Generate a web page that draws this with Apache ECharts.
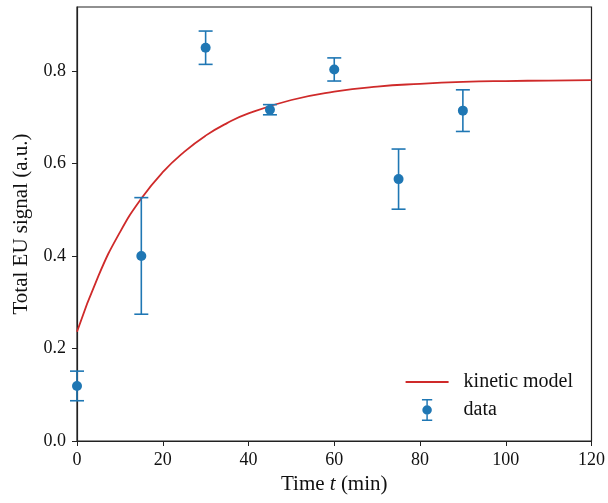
<!DOCTYPE html>
<html>
<head>
<meta charset="utf-8">
<script src="https://cdn.jsdelivr.net/npm/echarts@6/dist/echarts.min.js"></script>
<style>
  html, body { margin: 0; padding: 0; background: #fff; }
  #chart { width: 608px; height: 503px; }
</style>
</head>
<body>
<div id="chart"></div>
<script>
// measured points (time in min, signal, +/- error)
const dataTimes = [0, 15, 30, 45, 60, 75, 90];
const dataValues = [0.119, 0.400, 0.850, 0.716, 0.803, 0.566, 0.714];
const dataErrors = [0.032, 0.126, 0.036, 0.011, 0.025, 0.065, 0.045];

// kinetic model curve
const modelTimes = [0, 5, 10, 15, 20, 25, 30, 35, 40, 50, 60, 70, 80, 90, 100, 110, 120];
const modelValues = [0.236, 0.357, 0.451, 0.524, 0.581, 0.625, 0.660, 0.687, 0.708, 0.737, 0.755, 0.766, 0.772, 0.776, 0.778, 0.779, 0.780];

const xTicks = [0, 20, 40, 60, 80, 100, 120];
const yTicks = [0, 0.2, 0.4, 0.6, 0.8];

const blue = '#1f77b4';
const red = '#cf2a2a';
const font = 'Liberation Serif';

// legend glyphs
const linePath = 'path://M0,0H43V1.8H0Z';
const errPath = 'path://M3,0H17V2H3Z M9,0H11V30H9Z M3,28H17V30H3Z M16.5,15A6.5,6.5 0 1 1 3.5,15A6.5,6.5 0 1 1 16.5,15Z';

const chart = echarts.init(document.getElementById('chart'), null, { renderer: 'canvas' });

chart.setOption({
    animation: false,
    backgroundColor: '#fff',
    grid: {
        left: 77, right: 15, top: 7, bottom: 62,
        show: true, borderColor: '#222', borderWidth: 1.2
    },
    legend: {
        orient: 'vertical',
        right: 30, bottom: 77,
        itemWidth: 43, itemHeight: 22, itemGap: 7,
        textStyle: { fontFamily: font, fontSize: 20, color: '#111', padding: [0, 0, 0, 10] },
        data: [
            { name: 'kinetic model', icon: linePath },
            { name: 'data', icon: errPath }
        ]
    },
    xAxis: {
        type: 'value', min: 0, max: 120, interval: 20,
        name: '{n|Time }{i|t}{n| (min)}',
        nameLocation: 'middle', nameGap: 33,
        nameTextStyle: {
            rich: {
                n: { fontFamily: font, fontSize: 21, color: '#111' },
                i: { fontFamily: font, fontSize: 21, color: '#111', fontStyle: 'italic' }
            }
        },
        axisLine: { lineStyle: { color: '#222', width: 1.2 } },
        axisTick: { length: 5, lineStyle: { color: '#222' }, customValues: xTicks },
        axisLabel: { fontFamily: font, fontSize: 18, color: '#111', margin: 10, customValues: xTicks },
        splitLine: { show: false }
    },
    yAxis: {
        type: 'value', min: 0, max: 0.938,
        name: 'Total EU signal (a.u.)',
        nameLocation: 'middle', nameGap: 45,
        nameTextStyle: { fontFamily: font, fontSize: 21, color: '#111' },
        axisLine: { show: true, lineStyle: { color: '#222', width: 1.2 } },
        axisTick: { show: true, length: 5, lineStyle: { color: '#222' }, customValues: yTicks },
        axisLabel: {
            fontFamily: font, fontSize: 18, color: '#111', margin: 11,
            customValues: yTicks,
            formatter: v => v.toFixed(1)
        },
        splitLine: { show: false }
    },
    series: [
        {
            name: 'kinetic model',
            type: 'line',
            smooth: true,
            showSymbol: false,
            symbol: 'none',
            lineStyle: { color: red, width: 1.8 },
            itemStyle: { color: red },
            data: modelTimes.map((t, i) => [t, modelValues[i]]),
            z: 2
        },
        {
            name: 'data',
            type: 'custom',
            itemStyle: { color: blue },
            data: dataTimes.map((t, i) => [t, dataValues[i] - dataErrors[i], dataValues[i] + dataErrors[i]]),
            renderItem: function (params, api) {
                const lo = api.coord([api.value(0), api.value(1)]);
                const hi = api.coord([api.value(0), api.value(2)]);
                const cap = 7;
                const style = { stroke: blue, lineWidth: 1.6, fill: null };
                return {
                    type: 'group',
                    children: [
                        { type: 'line', shape: { x1: lo[0], y1: lo[1], x2: hi[0], y2: hi[1] }, style: style },
                        { type: 'line', shape: { x1: lo[0] - cap, y1: lo[1], x2: lo[0] + cap, y2: lo[1] }, style: style },
                        { type: 'line', shape: { x1: hi[0] - cap, y1: hi[1], x2: hi[0] + cap, y2: hi[1] }, style: style }
                    ]
                };
            },
            z: 3
        },
        {
            name: 'data',
            type: 'scatter',
            symbol: 'circle',
            symbolSize: 10,
            itemStyle: { color: blue, opacity: 1 },
            data: dataTimes.map((t, i) => [t, dataValues[i]]),
            z: 4
        }
    ]
});
</script>
</body>
</html>
